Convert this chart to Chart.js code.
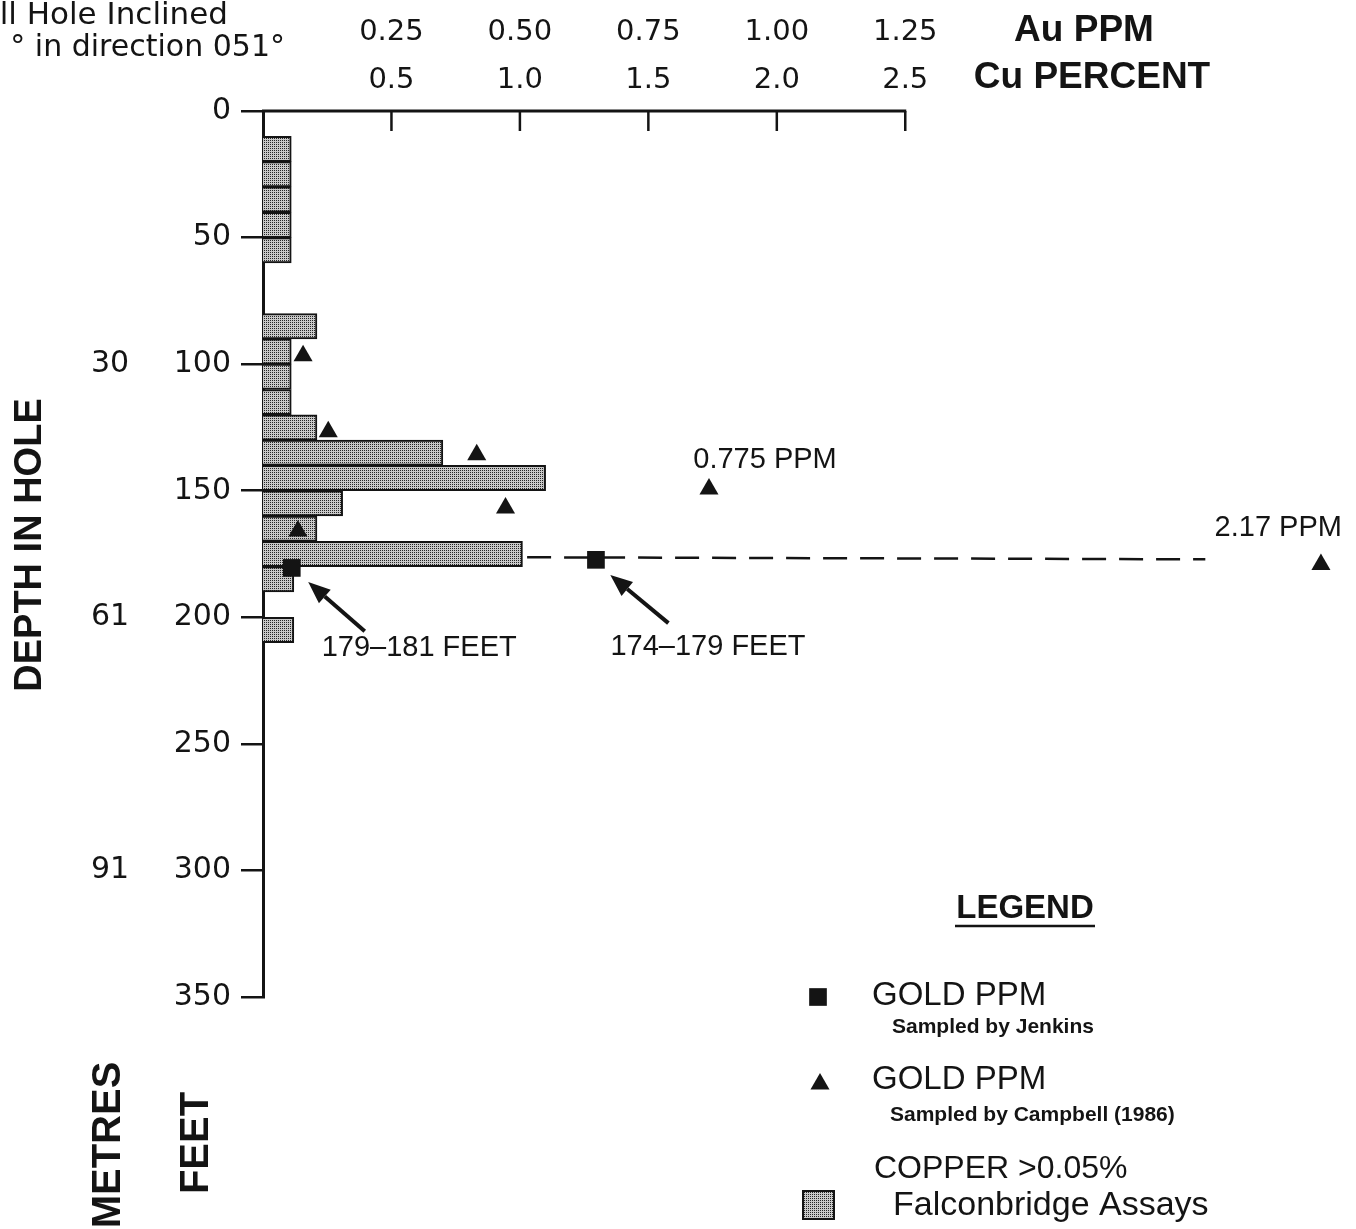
<!DOCTYPE html>
<html>
<head>
<meta charset="utf-8">
<script src="https://cdn.jsdelivr.net/npm/chart.js@4.4.0/dist/chart.umd.min.js"></script>
<style>
  html, body { margin: 0; padding: 0; background: #fff; }
  #wrap { width: 1356px; height: 1229px; position: relative; }
</style>
</head>
<body>
<div id="wrap"><canvas id="myChart"></canvas></div>
<script>
// copper assays: top of each 10 ft interval (feet) and Cu percent
var cuDepthTop = [10, 20, 30, 40, 50, 80, 90, 100, 110, 120, 130, 140, 150, 160, 170, 180, 200];
var cuPercent  = [0.11, 0.11, 0.11, 0.11, 0.11, 0.21, 0.11, 0.11, 0.11, 0.21, 0.70, 1.10, 0.31, 0.21, 1.01, 0.12, 0.12];
var cuInterval = 10;

// gold sampled by Jenkins (squares)
var jenkinsDepth = [180.5, 177.3];
var jenkinsAu    = [0.056, 0.648];

// gold sampled by Campbell 1986 (triangles)
var campbellDepth = [96.7, 126.7, 135.8, 156.8, 165.9, 149.3, 179.1];
var campbellAu    = [0.078, 0.127, 0.416, 0.472, 0.068, 0.868, 2.059];

// dashed tie line from the 170-180 ft assay out to the 2.17 ppm sample
var tieAu    = [0.514, 1.834];
var tieDepth = [176.3, 177.1];

// axis ticks
var auTicks  = [0.25, 0.50, 0.75, 1.00, 1.25];
var auLabels = ['0.25', '0.50', '0.75', '1.00', '1.25'];
var cuLabels = ['0.5', '1.0', '1.5', '2.0', '2.5'];
var metreAtFeet = [100, 200, 300];
var metreLabels = ['30', '61', '91'];

// notes and arrows, in (Au ppm, depth ft)
var noteText  = ['179\u2013181 FEET', '174\u2013179 FEET', '0.775 PPM', '2.17 PPM'];
var noteAu    = [0.304, 0.866, 0.977, 1.976];
var noteDepth = [212.1, 211.7, 137.9, 164.7];
var arrowTailAu = [0.198, 0.789], arrowTailDepth = [205.5, 202.3];
var arrowHeadAu = [0.088, 0.676], arrowHeadDepth = [186.1, 183.3];

var X_MAX = 2.1;
var INK = '#141414';
var SANS = '"Liberation Sans", Arial, sans-serif';
var NUM = '"DejaVu Sans", sans-serif';

function makeStipple() {
  var c = document.createElement('canvas');
  c.width = 2; c.height = 2;
  var g = c.getContext('2d');
  g.fillStyle = '#c9c9c9'; g.fillRect(0, 0, 2, 2);
  g.fillStyle = '#262626'; g.fillRect(0, 0, 1, 1);
  return g.createPattern(c, 'repeat');
}
var stipple = makeStipple();

function txt(c, s, x, y, font, align) {
  c.font = font; c.textAlign = align || 'center'; c.textBaseline = 'middle';
  c.fillText(s, x, y);
}
function vtxt(c, s, x, y, font) {
  c.save(); c.translate(x, y); c.rotate(-Math.PI / 2);
  txt(c, s, 0, 0, font); c.restore();
}
function arrow(c, x0, y0, x1, y1) {
  var a = Math.atan2(y1 - y0, x1 - x0), hl = 22, hw = 9;
  var bx = x1 - Math.cos(a) * hl, by = y1 - Math.sin(a) * hl;
  c.lineWidth = 4;
  c.beginPath(); c.moveTo(x0, y0); c.lineTo(bx, by); c.stroke();
  c.beginPath(); c.moveTo(x1, y1);
  c.lineTo(bx + Math.sin(a) * hw, by - Math.cos(a) * hw);
  c.lineTo(bx - Math.sin(a) * hw, by + Math.cos(a) * hw);
  c.closePath(); c.fill();
}

var decor = {
  id: 'decor',
  afterDraw: function (chart) {
    var c = chart.ctx, xs = chart.scales.x, ys = chart.scales.y, top = chart.chartArea.top;
    c.save();
    c.fillStyle = INK; c.strokeStyle = INK;

    // top axis line and inward ticks
    c.lineWidth = 3;
    c.beginPath(); c.moveTo(xs.getPixelForValue(0) - 1, top); c.lineTo(xs.getPixelForValue(1.25) + 1, top); c.stroke();
    c.lineWidth = 2.5;
    auTicks.forEach(function (v) {
      var px = xs.getPixelForValue(v);
      c.beginPath(); c.moveTo(px, top); c.lineTo(px, top + 20); c.stroke();
    });
    txt(c, 'Au PPM', 1084, 31, 'bold 37px ' + SANS);
    txt(c, 'Cu PERCENT', 1092, 78, 'bold 37px ' + SANS);

    // top-left caption (cut by page edge)
    txt(c, 'll Hole Inclined', 228, 16, '31px ' + NUM, 'right');
    txt(c, '\u00b0 in direction 051\u00b0', 285, 48, '30px ' + NUM, 'right');

    // metre labels
    metreAtFeet.forEach(function (f, i) {
      txt(c, metreLabels[i], 110, ys.getPixelForValue(f), '30px ' + NUM);
    });

    // rotated titles
    vtxt(c, 'DEPTH IN HOLE', 31, 545, 'bold 38px ' + SANS);
    vtxt(c, 'METRES', 109, 1145, 'bold 40px ' + SANS);
    vtxt(c, 'FEET', 197, 1143, 'bold 40px ' + SANS);

    // notes and arrows
    noteText.forEach(function (s, i) {
      txt(c, s, xs.getPixelForValue(noteAu[i]), ys.getPixelForValue(noteDepth[i]), '29px ' + SANS);
    });
    arrowTailAu.forEach(function (v, i) {
      arrow(c, xs.getPixelForValue(v), ys.getPixelForValue(arrowTailDepth[i]),
        xs.getPixelForValue(arrowHeadAu[i]), ys.getPixelForValue(arrowHeadDepth[i]));
    });

    // legend
    txt(c, 'LEGEND', 1025, 909, 'bold 33px ' + SANS);
    c.lineWidth = 2.5;
    c.beginPath(); c.moveTo(955, 926); c.lineTo(1095, 926); c.stroke();

    Chart.helpers.drawPoint(c, { pointStyle: 'rect', radius: 12.5, borderWidth: 0 }, 818, 997);
    txt(c, 'GOLD PPM', 872, 996, '33px ' + SANS, 'left');
    txt(c, 'Sampled by Jenkins', 892, 1027, 'bold 21px ' + SANS, 'left');

    Chart.helpers.drawPoint(c, { pointStyle: 'triangle', radius: 11, borderWidth: 0 }, 820, 1084);
    txt(c, 'GOLD PPM', 872, 1080, '33px ' + SANS, 'left');
    txt(c, 'Sampled by Campbell (1986)', 890, 1115, 'bold 21px ' + SANS, 'left');

    txt(c, 'COPPER >0.05%', 874, 1169, '32px ' + SANS, 'left');
    c.fillStyle = stipple;
    c.fillRect(803, 1191, 31, 28);
    c.lineWidth = 2; c.strokeRect(803, 1191, 31, 28);
    c.fillStyle = INK;
    txt(c, 'Falconbridge Assays', 893, 1206, '34px ' + SANS, 'left');
    c.restore();
  }
};

var ctx = document.getElementById('myChart').getContext('2d');
var chart = new Chart(ctx, {
  type: 'scatter',
  data: {
    datasets: [
      {
        type: 'bar',
        label: 'COPPER >0.05% Falconbridge Assays',
        indexAxis: 'y',
        xAxisID: 'xCu',
        yAxisID: 'y',
        data: cuDepthTop.map(function (d, i) { return { x: cuPercent[i], y: d + cuInterval / 2 }; }),
        backgroundColor: stipple,
        borderColor: INK,
        borderWidth: 2,
        borderSkipped: 'start',
        grouped: false,
        // one bar spans a full assay interval on the depth scale
        barThickness: function (c) {
          var y = c.chart.scales.y;
          return Math.abs(y.getPixelForValue(cuInterval) - y.getPixelForValue(0));
        },
        barPercentage: 1,
        categoryPercentage: 1,
        order: 3
      },
      {
        type: 'line',
        label: 'tie',
        xAxisID: 'x',
        yAxisID: 'y',
        data: tieAu.map(function (v, i) { return { x: v, y: tieDepth[i] }; }),
        borderColor: INK,
        borderWidth: 2.5,
        borderDash: [24, 13],
        pointRadius: 0,
        fill: false,
        order: 2
      },
      {
        label: 'GOLD PPM Sampled by Jenkins',
        xAxisID: 'x',
        yAxisID: 'y',
        data: jenkinsAu.map(function (v, i) { return { x: v, y: jenkinsDepth[i] }; }),
        pointStyle: 'rect',
        pointRadius: 12.5,
        backgroundColor: INK,
        borderWidth: 0,
        order: 1
      },
      {
        label: 'GOLD PPM Sampled by Campbell (1986)',
        xAxisID: 'x',
        yAxisID: 'y',
        data: campbellAu.map(function (v, i) { return { x: v, y: campbellDepth[i] }; }),
        pointStyle: 'triangle',
        pointRadius: 11,
        backgroundColor: INK,
        borderWidth: 0,
        order: 0
      }
    ]
  },
  options: {
    responsive: true,
    maintainAspectRatio: false,
    animation: false,
    events: [],
    layout: { padding: { left: 0, top: 0, right: 14, bottom: 232 } },
    plugins: { legend: { display: false }, tooltip: { enabled: false } },
    scales: {
      x: {
        type: 'linear',
        position: 'top',
        min: 0,
        max: X_MAX,
        offset: false,
        afterBuildTicks: function (s) { s.ticks = auTicks.map(function (v) { return { value: v }; }); },
        ticks: {
          autoSkip: false,
          maxRotation: 0,
          padding: 6,
          color: INK,
          font: { family: NUM, size: 29, lineHeight: 1.66 },
          callback: function (v, i) { return [auLabels[i], cuLabels[i]]; }
        },
        grid: { display: false, drawTicks: false },
        border: { display: false },
        afterFit: function (s) { s.height = 111; }
      },
      xCu: {
        type: 'linear',
        display: false,
        offset: false,
        min: 0,
        max: X_MAX * 2
      },
      y: {
        type: 'linear',
        reverse: true,
        offset: false,
        min: 0,
        max: 350,
        ticks: { stepSize: 50, padding: 10, color: INK, font: { family: NUM, size: 30 } },
        grid: { offset: false, drawOnChartArea: false, drawTicks: true, tickLength: 22, color: INK, lineWidth: 2.5 },
        border: { display: true, color: INK, width: 3 },
        afterFit: function (s) { s.width = 263; }
      }
    }
  },
  plugins: [decor]
});
</script>
</body>
</html>
